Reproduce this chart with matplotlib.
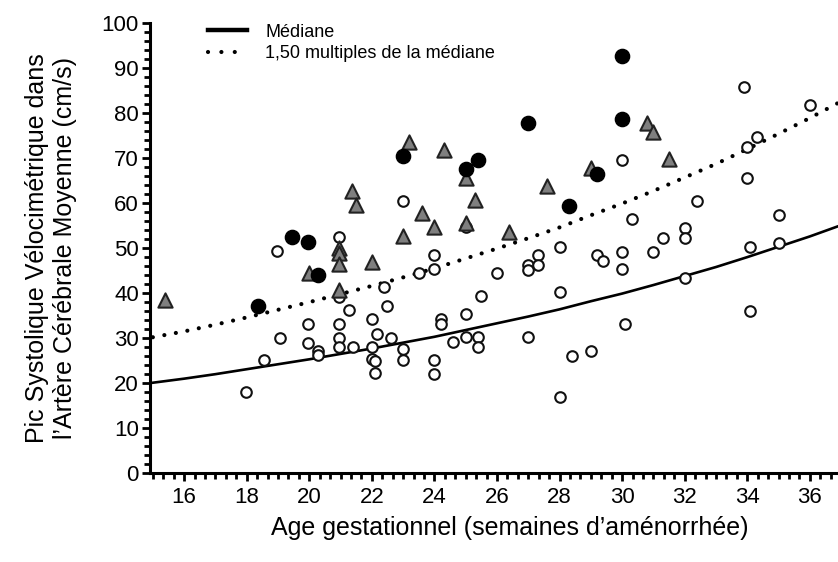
import matplotlib
matplotlib.use("Agg")
import matplotlib.pyplot as plt
from matplotlib.ticker import MultipleLocator
from matplotlib.lines import Line2D

# reference curves, one value per week (15..37)
curve_weeks = [15, 16, 17, 18, 19, 20, 21, 22, 23, 24, 25, 26,
               27, 28, 29, 30, 31, 32, 33, 34, 35, 36, 37]
median = [20.1, 21.0, 22.0, 23.1, 24.2, 25.3, 26.5, 27.7, 29.0, 30.3, 31.8, 33.3,
          34.8, 36.4, 38.2, 39.9, 41.8, 43.8, 45.8, 48.0, 50.3, 52.6, 55.1]
mom_150 = [30.2, 31.5, 33.0, 34.6, 36.3, 38.0, 39.8, 41.6, 43.5, 45.5, 47.7, 49.9,
           52.2, 54.6, 57.3, 59.9, 62.7, 65.7, 68.7, 72.0, 75.4, 78.9, 82.6]

# open circles
open_x = [17.98, 18.56, 18.96, 19.05, 19.95, 19.95, 20.27, 20.27, 20.95, 20.95,
          20.95, 20.95, 20.95, 21.28, 21.4, 22.0, 22.0, 22.0, 22.1, 22.1,
          22.18, 22.4, 22.5, 22.6, 23.0, 23.0, 23.0, 23.5, 24.0, 24.0,
          24.0, 24.0, 24.2, 24.2, 24.6, 25.0, 25.0, 25.0, 25.4, 25.4,
          25.5, 26.0, 27.0, 27.0, 27.3, 27.3, 27.0, 28.0, 28.0, 28.0,
          28.4, 29.0, 29.2, 29.4, 30.0, 30.3, 30.0, 30.0, 30.1, 31.0,
          31.3, 32.0, 32.0, 32.0, 32.4, 33.9, 34.0, 34.3, 34.0, 34.1,
          34.1, 35.0, 35.0, 36.0]
open_y = [18.1, 25.1, 49.3, 30.1, 33.1, 29.0, 27.2, 26.2, 52.4, 39.2,
          33.1, 30.1, 28.1, 36.2, 28.1, 34.2, 28.1, 25.3, 25.0, 22.2,
          31.0, 41.3, 37.2, 30.1, 60.5, 27.5, 25.1, 44.4, 48.4, 45.3,
          25.1, 22.0, 34.2, 33.1, 29.2, 54.6, 35.3, 30.2, 30.2, 28.1,
          39.3, 44.4, 46.2, 45.1, 48.4, 46.2, 30.2, 50.3, 40.3, 17.0,
          26.0, 27.1, 48.4, 47.2, 69.6, 56.4, 49.2, 45.3, 33.1, 49.2,
          52.3, 54.4, 52.3, 43.3, 60.4, 85.7, 72.5, 74.6, 65.5, 50.3,
          36.1, 57.3, 51.2, 81.8]

# grey triangles
tri_x = [15.4, 20.0, 20.95, 20.95, 20.95, 20.95, 21.36, 21.5, 22.0, 23.0,
         23.2, 23.6, 24.0, 24.3, 25.0, 25.0, 25.3, 26.4, 27.6, 29.0,
         30.8, 31.0, 31.5]
tri_y = [38.4, 44.4, 50.0, 49.0, 46.5, 40.7, 62.7, 59.6, 47.0, 52.7,
         73.6, 57.7, 54.7, 71.8, 65.5, 55.6, 60.8, 53.6, 63.8, 67.7,
         77.8, 75.8, 69.7]

# filled circles
full_x = [18.35, 19.45, 19.95, 20.27, 23.0, 25.0, 25.4, 27.0, 28.3, 29.2, 30.0, 30.0]
full_y = [37.2, 52.4, 51.4, 44.0, 70.4, 67.5, 69.6, 77.7, 59.3, 66.4, 78.6, 92.7]

plt.rcParams['font.family'] = ['Liberation Sans', 'DejaVu Sans']

fig = plt.figure(figsize=(8.38, 5.62), dpi=100)
ax = fig.add_axes([0.179, 0.158, 0.821, 0.801])

ax.plot(curve_weeks, median, color='black', lw=1.9, zorder=2)
ax.plot(curve_weeks, mom_150, color='black', lw=3.0,
        linestyle=(0, (0.01, 2.8)), dash_capstyle='round', zorder=2)

ax.scatter(open_x, open_y, s=58, facecolor='white', edgecolor='#111111',
           linewidths=1.5, zorder=3)
ax.scatter(tri_x, tri_y, marker='^', s=105, facecolor='#7f7f7f',
           edgecolor='#222222', linewidths=1.5, zorder=4)
ax.scatter(full_x, full_y, s=105, facecolor='black', edgecolor='black', zorder=5)

ax.set_xlim(14.91, 36.9)
ax.set_ylim(0, 100)
ax.xaxis.set_major_locator(MultipleLocator(2))
ax.xaxis.set_minor_locator(MultipleLocator(1 / 3))
ax.yaxis.set_major_locator(MultipleLocator(10))
ax.yaxis.set_minor_locator(MultipleLocator(2))

for side in ['top', 'right']:
    ax.spines[side].set_visible(False)
for side in ['left', 'bottom']:
    ax.spines[side].set_linewidth(2.2)
ax.tick_params(which='major', direction='out', length=6, width=2, labelsize=16)
ax.tick_params(axis='x', which='major', pad=4)
ax.tick_params(axis='y', which='major', pad=2)
ax.tick_params(which='minor', direction='out', length=4, width=2)

ax.set_xlabel("Age gestationnel (semaines d\u2019aménorrhée)", fontsize=18)
ax.xaxis.set_label_coords(0.523, -0.095)
ax.set_ylabel("Pic Systolique Vélocimétrique dans\nl\u2019Artère Cérébrale Moyenne (cm/s)",
              fontsize=18, labelpad=18)

handles = [Line2D([], [], color='black', lw=3.2),
           Line2D([], [], color='black', lw=3.0, linestyle=(0, (0.01, 3.2)),
                  dash_capstyle='round')]
ax.legend(handles, ['Médiane', '1,50 multiples de la médiane'], loc='upper left',
          bbox_to_anchor=(0.06, 1.035), frameon=False, fontsize=13,
          handlelength=2.2, handletextpad=1.0, labelspacing=0.25)

fig.savefig('out.png', dpi=100)
